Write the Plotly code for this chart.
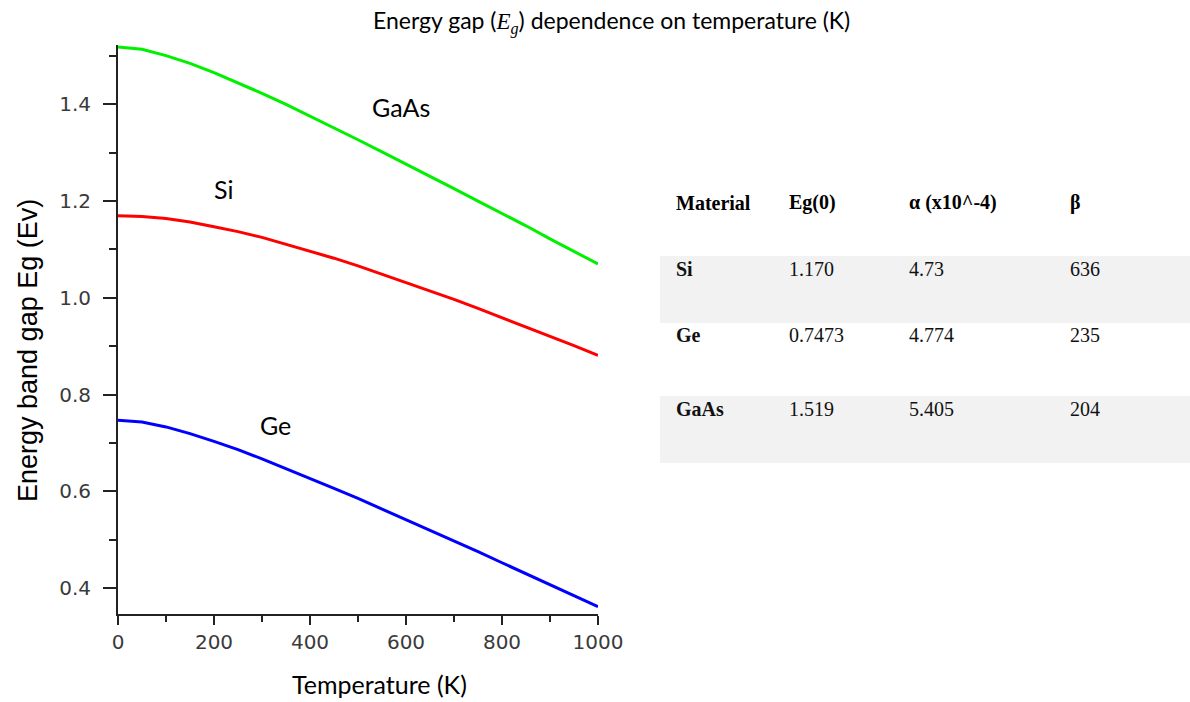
import plotly.graph_objects as go

# ---- data ----
temperature = [0, 50, 100, 150, 200, 250, 300, 350, 400, 450, 500,
               550, 600, 650, 700, 750, 800, 850, 900, 950, 1000]
eg_si = [1.170, 1.168, 1.164, 1.157, 1.147, 1.137, 1.125, 1.111, 1.097, 1.082, 1.066,
         1.049, 1.032, 1.015, 0.997, 0.978, 0.959, 0.940, 0.921, 0.901, 0.881]
eg_ge = [0.747, 0.743, 0.733, 0.719, 0.703, 0.686, 0.667, 0.647, 0.627, 0.606, 0.585,
         0.563, 0.542, 0.519, 0.497, 0.475, 0.452, 0.429, 0.407, 0.384, 0.361]
eg_gaas = [1.519, 1.514, 1.501, 1.485, 1.466, 1.445, 1.423, 1.400, 1.376, 1.352, 1.327,
           1.302, 1.277, 1.252, 1.226, 1.200, 1.175, 1.149, 1.122, 1.096, 1.070]

table_header = ["Material", "Eg(0)", "α (x10^-4)", "β"]
table_material = ["Si", "Ge", "GaAs"]
table_eg0 = ["1.170", "0.7473", "1.519"]
table_alpha = ["4.73", "4.774", "5.405"]
table_beta = ["636", "235", "204"]

W, H = 1190, 702


def px(x):
    return x / W


def py(y):
    return 1 - y / H


fig = go.Figure()
fig.add_trace(go.Scatter(x=temperature, y=eg_gaas, mode="lines",
                         line=dict(color="#00f000", width=3), name="GaAs"))
fig.add_trace(go.Scatter(x=temperature, y=eg_si, mode="lines",
                         line=dict(color="#ff0000", width=3), name="Si"))
fig.add_trace(go.Scatter(x=temperature, y=eg_ge, mode="lines",
                         line=dict(color="#0000ff", width=3), name="Ge"))

tickfont = dict(family="DejaVu Sans", size=20, color="#3a3a3a")
fig.update_layout(
    width=W, height=H, autosize=False,
    margin=dict(l=0, r=0, t=0, b=0, pad=0),
    paper_bgcolor="white", plot_bgcolor="white",
    showlegend=False,
    xaxis=dict(domain=[px(118), px(598)], range=[0, 1000], showgrid=False,
               zeroline=False, showline=True, linecolor="#222", linewidth=2,
               ticks="outside", ticklen=9, tickwidth=2, tickcolor="#222",
               tick0=0, dtick=200, tickfont=tickfont, ticklabelstandoff=0,
               automargin=False,
               minor=dict(ticks="outside", ticklen=6, tickwidth=2, tickcolor="#222",
                          dtick=100, showgrid=False)),
    yaxis=dict(domain=[py(614), py(45)], range=[0.346, 1.523], showgrid=False,
               zeroline=False, showline=True, linecolor="#222", linewidth=2,
               ticks="outside", ticklen=13, tickwidth=2, tickcolor="#222",
               tick0=0.4, dtick=0.2, tickformat=".1f", tickfont=tickfont,
               ticklabelstandoff=8, automargin=False,
               minor=dict(ticks="outside", ticklen=7, tickwidth=2, tickcolor="#222",
                          dtick=0.1, tick0=0.4, showgrid=False)),
)

annots = []
calibri = "Lato"


def add_text(x, y, text, font, **kw):
    d = dict(x=px(x), y=py(y), xref="paper", yref="paper", showarrow=False,
             xanchor="center", yanchor="middle", text=text, font=font)
    d.update(kw)
    annots.append(d)


add_text(612, 22,
         "Energy gap (<span style='font-family:Liberation Serif'><i>E</i><sub><i>g</i></sub></span>) dependence on temperature (K)",
         dict(family=calibri, size=23, color="black"))
add_text(380, 684, "Temperature (K)", dict(family=calibri, size=25, color="black"))
add_text(28, 351, "Energy band gap Eg (Ev)",
         dict(family="Liberation Sans", size=27, color="black"), textangle=-90)
for txt, (x, y) in zip(["GaAs", "Si", "Ge"], [(401, 107), (223, 189), (275, 425)]):
    add_text(x, y, txt, dict(family=calibri, size=25, color="black"))

# table
shapes = []
for y0, y1 in [(256, 323), (396, 463)]:
    shapes.append(dict(type="rect", xref="paper", yref="paper", x0=px(660), x1=px(1190),
                       y0=py(y1), y1=py(y0), fillcolor="#f2f2f2", line=dict(width=0),
                       layer="below"))
col_x = [674, 787, 907, 1068]
row_y = [203, 269, 335, 409]
serif = "Liberation Serif"
for cx, h in zip(col_x, table_header):
    add_text(cx, row_y[0], f"<b>{h}</b>", dict(family=serif, size=20, color="black"),
             xanchor="left")
for i in range(3):
    vals = [f"<b>{table_material[i]}</b>", table_eg0[i], table_alpha[i], table_beta[i]]
    for cx, v in zip(col_x, vals):
        add_text(cx, row_y[i + 1], v, dict(family=serif, size=20, color="#111"),
                 xanchor="left")

fig.update_layout(annotations=annots, shapes=shapes)
fig.write_html("out.html", config={"responsive": False})
